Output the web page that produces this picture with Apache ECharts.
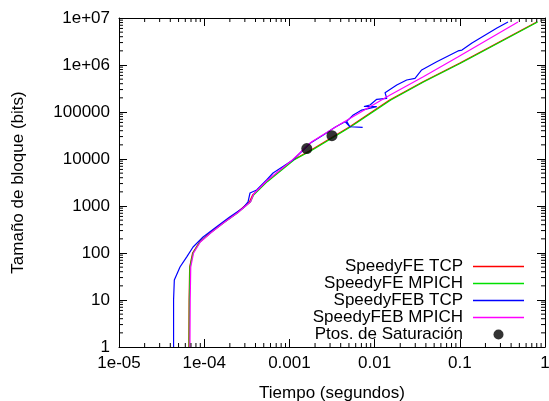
<!DOCTYPE html>
<html><head><meta charset="utf-8">
<script src="https://cdn.jsdelivr.net/npm/echarts@6/dist/echarts.min.js"></script>
<style>html,body{margin:0;padding:0;background:#fff}#c{width:549px;height:401px}</style>
</head><body><div id="c"></div>
<script>
const FONT = '"Liberation Sans", Arial, Helvetica, sans-serif';

// Tick labels
const xTickLabels = ['1e-05', '1e-04', '0.001', '0.01', '0.1', '1'];
const yTickLabels = ['1', '10', '100', '1000', '10000', '100000', '1e+06', '1e+07'];
const minorMultipliers = [2, 3, 4, 5, 6, 7, 8, 9];

// Series names
const seriesNames = ['SpeedyFE TCP', 'SpeedyFE MPICH', 'SpeedyFEB TCP', 'SpeedyFEB MPICH', 'Ptos. de Saturaci\u00f3n'];

// SpeedyFE TCP
const feTcpX = [6.6e-5, 6.65e-5, 6.75e-5, 7.3e-5, 8.8e-5, 1.16e-4, 1.65e-4, 2.4e-4, 3.4e-4, 3.7e-4, 5.4e-4, 1.1e-3, 1.8e-3, 5.1e-3, 0.0150, 0.037, 0.099, 0.80];
const feTcpY = [1, 10, 50, 100, 171, 267, 435, 710, 1230, 1710, 3290, 9530, 15500, 48600, 180000, 442000, 1.09e6, 8.2e6];

// SpeedyFE MPICH
const feMpiX = [6.65e-5, 6.7e-5, 6.8e-5, 7.4e-5, 8.9e-5, 1.18e-4, 1.68e-4, 2.45e-4, 3.5e-4, 3.8e-4, 5.5e-4, 1.13e-3, 1.86e-3, 5.25e-3, 0.0155, 0.038, 0.102, 0.82];
const feMpiY = [1, 10, 50, 100, 171, 267, 435, 710, 1230, 1710, 3290, 9530, 15500, 48600, 180000, 442000, 1.09e6, 8.2e6];

// SpeedyFEB TCP
const febTcpX = [4.37e-5, 4.37e-5, 4.46e-5, 5.2e-5, 6.24e-5, 7.4e-5, 9.7e-5, 1.40e-4, 2.01e-4, 2.85e-4, 3.27e-4, 3.45e-4, 4.13e-4, 5.4e-4, 6.43e-4, 1.1e-3, 1.75e-3, 2.50e-3, 3.43e-3, 4.5e-3, 5.14e-3, 7.24e-3, 5.14e-3, 4.7e-3, 5.62e-3, 7.06e-3, 0.0106, 7.5e-3, 8.83e-3, 0.0106, 0.0139, 0.01325, 0.0182, 0.0238, 0.0298, 0.0357, 0.0536, 0.0953, 0.106, 0.139, 0.273, 0.368];
const febTcpY = [1, 10, 26.7, 50.4, 83, 134, 219, 363, 592, 906, 1230, 1890, 2190, 3570, 5030, 9530, 21600, 32400, 47200, 62200, 48600, 47200, 48600, 63000, 86300, 110000, 130000, 131000, 141000, 186000, 195000, 258000, 375000, 480000, 521000, 783000, 1.17e6, 1.99e6, 2.08e6, 2.94e6, 6.12e6, 8.2e6];

// SpeedyFEB MPICH
const febMpiX = [6.8e-5, 6.85e-5, 6.95e-5, 7.5e-5, 9.0e-5, 1.19e-4, 1.68e-4, 2.45e-4, 3.5e-4, 3.8e-4, 5.4e-4, 1.1e-3, 1.83e-3, 3.93e-3, 0.0152, 0.0373, 0.096, 0.482];
const febMpiY = [1, 10, 50, 100, 171, 267, 435, 710, 1230, 1800, 3400, 9800, 23300, 55000, 230000, 564000, 1.50e6, 8.2e6];

// Saturation points
const satX = [1.60e-3, 3.16e-3];
const satY = [16700, 31300];

const zip = (xs, ys) => xs.map((x, i) => [x, ys[i]]);

// minor tick positions (axis decoration)
const minorTicks = [];
for (let e = -5; e < 0; e++) minorMultipliers.forEach(m => minorTicks.push([m * Math.pow(10, e), 1, 0]));
for (let e = 0; e < 7; e++) minorMultipliers.forEach(m => minorTicks.push([1e-5, m * Math.pow(10, e), 1]));

const chart = echarts.init(document.getElementById('c'), null, { renderer: 'canvas' });

const axisLineStyle = { color: '#000', width: 1 };
const lineSeries = (name, data, color) => ({
  name, type: 'line', data, symbol: 'none', showSymbol: false,
  lineStyle: { color, width: 1.2 }, itemStyle: { color },
  animation: false, clip: true, z: 3
});
const lineIcon = 'path://M0,0H51V1.6H0Z';

chart.setOption({
  animation: false,
  backgroundColor: '#fff',
  textStyle: { fontFamily: FONT },
  grid: { left: 119, right: 4, top: 18, bottom: 54, containLabel: false, outerBoundsMode: 'none' },
  xAxis: [{
    type: 'log', logBase: 10, min: 1e-5, max: 1, interval: 1,
    position: 'bottom',
    name: 'Tiempo (segundos)', nameLocation: 'middle', nameGap: 38,
    nameTextStyle: { fontSize: 17, color: '#000', fontFamily: FONT },
    axisLine: { show: true, lineStyle: axisLineStyle },
    axisTick: { show: true, inside: true, length: 8, lineStyle: axisLineStyle },
    axisLabel: {
      fontSize: 17, color: '#000', fontFamily: FONT, margin: 8,
      formatter: v => xTickLabels[Math.round(Math.log10(v)) + 5]
    },
    splitLine: { show: false }
  }, {
    type: 'log', logBase: 10, min: 1e-5, max: 1, interval: 1,
    position: 'top',
    axisLine: { show: true, lineStyle: axisLineStyle },
    axisTick: { show: true, inside: true, length: 8, lineStyle: axisLineStyle },
    axisLabel: { show: false },
    splitLine: { show: false }
  }],
  yAxis: [{
    type: 'log', logBase: 10, min: 1, max: 1e7, interval: 1,
    position: 'left',
    name: 'Tama\u00f1o de bloque (bits)', nameLocation: 'middle', nameGap: 92,
    nameTextStyle: { fontSize: 17, color: '#000', fontFamily: FONT },
    axisLine: { show: true, lineStyle: axisLineStyle },
    axisTick: { show: true, inside: true, length: 8, lineStyle: axisLineStyle },
    axisLabel: {
      fontSize: 17, color: '#000', fontFamily: FONT, margin: 9,
      formatter: v => yTickLabels[Math.round(Math.log10(v))]
    },
    splitLine: { show: false }
  }, {
    type: 'log', logBase: 10, min: 1, max: 1e7, interval: 1,
    position: 'right',
    axisLine: { show: true, lineStyle: axisLineStyle },
    axisTick: { show: true, inside: true, length: 8, lineStyle: axisLineStyle },
    axisLabel: { show: false },
    splitLine: { show: false }
  }],
  legend: {
    orient: 'vertical', align: 'right', right: 20, top: 253,
    itemWidth: 51, itemHeight: 10, itemGap: 0,
    data: [
      { name: seriesNames[0], icon: lineIcon },
      { name: seriesNames[1], icon: lineIcon },
      { name: seriesNames[2], icon: lineIcon },
      { name: seriesNames[3], icon: lineIcon },
      { name: seriesNames[4], icon: 'circle' }
    ],
    textStyle: { fontSize: 17, color: '#000', fontFamily: FONT, padding: [0, 5, 0, 0] },
    selectedMode: false
  },
  series: [
    lineSeries(seriesNames[0], zip(feTcpX, feTcpY), '#ff0000'),
    lineSeries(seriesNames[1], zip(feMpiX, feMpiY), '#00e000'),
    lineSeries(seriesNames[2], zip(febTcpX, febTcpY), '#0000ff'),
    lineSeries(seriesNames[3], zip(febMpiX, febMpiY), '#ff00ff'),
    {
      name: seriesNames[4], type: 'scatter', data: zip(satX, satY),
      symbol: 'circle', symbolSize: 11, itemStyle: { color: '#000' }, z: 5
    },
    {
      name: 'minorTicks', type: 'custom', data: minorTicks, silent: true, clip: false, z: 6,
      renderItem: (params, api) => {
        const cs = params.coordSys;
        const kind = api.value(2);
        const p = api.coord([api.value(0), api.value(1)]);
        const L = 4;
        const st = { stroke: '#000', lineWidth: 1 };
        if (kind === 0) {
          return { type: 'group', children: [
            { type: 'line', shape: { x1: p[0], y1: cs.y + cs.height, x2: p[0], y2: cs.y + cs.height - L }, style: st },
            { type: 'line', shape: { x1: p[0], y1: cs.y, x2: p[0], y2: cs.y + L }, style: st }
          ]};
        }
        return { type: 'group', children: [
          { type: 'line', shape: { x1: cs.x, y1: p[1], x2: cs.x + L, y2: p[1] }, style: st },
          { type: 'line', shape: { x1: cs.x + cs.width, y1: p[1], x2: cs.x + cs.width - L, y2: p[1] }, style: st }
        ]};
      }
    }
  ]
});
</script>
</body></html>
